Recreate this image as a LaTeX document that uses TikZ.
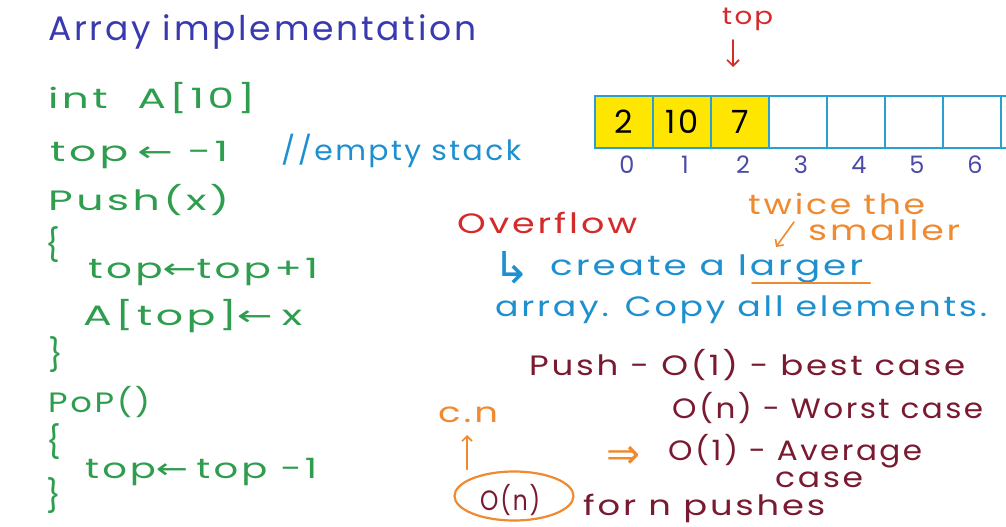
\documentclass[tikz,border=0pt]{standalone}
\usepackage{fontspec}
\usepackage{graphicx}
\setmainfont{Poppins}[LetterSpace=8]
\newfontfamily\sym{DejaVu Sans}
\usetikzlibrary{arrows.meta,shapes.geometric}
\definecolor{ttl}{HTML}{3A3AB0}
\definecolor{grn}{HTML}{2E9E4E}
\definecolor{cblue}{HTML}{1E90D0}
\definecolor{rd}{HTML}{D42A2A}
\definecolor{org}{HTML}{F08A30}
\definecolor{mar}{HTML}{7A1A30}
\definecolor{idx}{HTML}{4A4AA8}
\definecolor{abl}{HTML}{2AA0D0}
\definecolor{yel}{HTML}{FFE600}
\newcommand\fw[2]{\resizebox{#1pt}{\height}{#2}}
\begin{document}
\begin{tikzpicture}[x=1pt,y=-1pt,
  txt/.style={anchor=base west,inner sep=0pt,font=\fontsize{28}{32}\selectfont},
  big/.style={txt,font=\fontsize{34}{38}\selectfont},
  code/.style={txt,text=grn},
  brace/.style={txt,text=grn,font=\fontsize{32}{36}\selectfont},
  cell/.style={draw=abl,line width=2pt,minimum width=58pt,minimum height=52pt,inner sep=0pt,font=\fontsize{32}{36}\selectfont},
  full/.style={cell,fill=yel},
  ix/.style={inner sep=0pt,text=idx,font=\fontsize{24}{28}\selectfont},
  hand/.style={line width=1.6pt,line cap=round}]
\clip (0,0) rectangle (1006,527);
\useasboundingbox (0,0) rectangle (1006,527);
\fill[white] (0,0) rectangle (1006,527);
% title
\node[big,text=ttl] (title) at (48,41) {\fw{428}{Array implementation}};
% code
\node[code] (l1) at (48,108) {\fw{207}{int\hspace{20pt}A[10]}};
\node[code] (l2) at (50,161) {\fw{178}{top\hspace{6pt}{\sym←}\hspace{10pt}-1}};
\node[txt,text=cblue] (cm) at (281,160) {\fw{240}{//empty stack}};
\node[code] (l3) at (48,210) {\fw{181}{Push(x)}};
\node[brace] (b1) at (45,256) {\{};
\node[code] (l4) at (88,278) {\fw{230}{top{\sym←}top+1}};
\node[code] (l5) at (83,325) {\fw{219}{A[top]{\sym←}\hspace{6pt}x}};
\node[brace] (b2) at (48,366) {\}};
\node[code] (l6) at (48,412) {\fw{102}{PoP()}};
\node[brace] (b3) at (46,453) {\{};
\node[code] (l7) at (85,478) {\fw{232}{top{\sym←}\hspace{6pt}top -1}};
\node[brace] (b4) at (46,507) {\}};
% array
\foreach \i/\v in {0/2,1/10,2/7}{
  \node[full] (c\i) at (624+58*\i,122) {\v};
}
\foreach \i in {3,...,7}{
  \node[cell] (c\i) at (624+58*\i,122) {};
}
\foreach \i in {0,...,6}{
  \node[ix,anchor=base] (n\i) at (627+58*\i,173) {\i};
}
\node[txt,text=rd,font=\fontsize{24}{28}\selectfont] (top) at (722,25) {\fw{51}{top}};
\coordinate (ta) at (733,67);
\draw[hand,draw=rd,-{Straight Barb[length=6pt,width=12pt]}] (733,40) -- (ta);
% overflow
\node[txt,text=rd] (ovf) at (457,233) {\fw{180}{Overflow}};
\node[txt,text=org] (tw) at (748,214) {\fw{177}{twice the}};
\node[txt,text=org] (sm) at (808,240) {\fw{152}{smaller}};
\node[txt,text=cblue,font=\fontsize{44}{48}\sym] (hook) at (493,283) {\fw{37}{↳}};
\node[txt,text=cblue] (cr) at (550,275) {\fw{313}{create a larger}};
\coordinate (la) at (776,247);
\draw[hand,draw=org,-{Straight Barb[length=5pt,width=10pt]}] (794,222) -- (la);
\coordinate (u1) at (752,283);
\coordinate (u2) at (870,283);
\draw[hand,draw=org,line width=2pt] (u1) -- (u2);
\node[txt,text=cblue] (cp) at (495,316) {\fw{492}{array. Copy all elements.}};
% complexity
\node[txt,text=mar] (p1) at (529,375) {\fw{436}{Push\hspace{10pt}-\hspace{10pt}O(1) - best case}};
\node[txt,text=mar] (p2) at (672,418) {\fw{311}{O(n) - Worst case}};
\node[txt,text=org] (cn) at (438,422) {\fw{60}{c.n}};
\node[txt,text=org,font=\fontsize{42}{46}\sym] (imp) at (606,468) {\fw{34}{⇒}};
\node[txt,text=mar] (p3) at (668,460) {\fw{254}{O(1) - Average}};
\node[txt,text=mar] (p4) at (775,487) {\fw{88}{case}};
\node[draw=org,line width=2.2pt,ellipse,minimum width=119pt,minimum height=49pt,inner sep=0pt] (on) at (514,496) {};
\node[txt,text=mar] (onx) at (480,510) {\fw{60}{O(n)}};
\node[txt,text=mar] (fp) at (583,515) {\fw{242}{for n pushes}};
\coordinate (ua) at (467,435);
\draw[hand,draw=org,-{Straight Barb[length=5pt,width=10pt]}] (on.north -| ua) ++(0,-1) -- (ua);
\end{tikzpicture}
\end{document}
